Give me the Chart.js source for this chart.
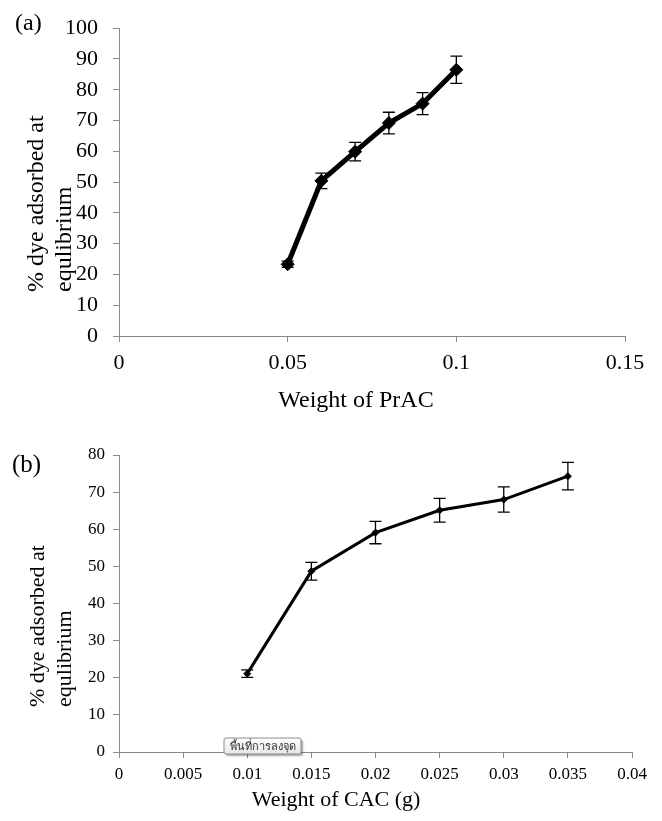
<!DOCTYPE html>
<html>
<head>
<meta charset="utf-8">
<script src="https://cdn.jsdelivr.net/npm/chart.js@4"></script>
<style>
  html, body { margin: 0; padding: 0; background: #fff; }
  #wrap { position: relative; width: 662px; height: 821px; }
  canvas { position: absolute; left: 0; }
  #chartA { top: 0; }
  #chartB { top: 425px; }
</style>
</head>
<body>
<div id="wrap">
  <canvas id="chartA" width="662" height="425"></canvas>
  <canvas id="chartB" width="662" height="396"></canvas>
</div>
<script>
// ===============================
// Data
// ===============================

// (a) PrAC
const weightA = [0.05, 0.06, 0.07, 0.08, 0.09, 0.1];
const adsorbA = [23.3, 50.4, 59.9, 69.2, 75.5, 86.5];
const errA = [1.0, 2.5, 3.0, 3.5, 3.6, 4.4];
const xTicksA = [0, 0.05, 0.1, 0.15];
const yTicksA = [0, 10, 20, 30, 40, 50, 60, 70, 80, 90, 100];

// (b) CAC
const weightB = [0.01, 0.015, 0.02, 0.025, 0.03, 0.035];
const adsorbB = [21.1, 48.7, 59.1, 65.1, 68.0, 74.3];
const errB = [1.0, 2.4, 3.0, 3.2, 3.4, 3.7];
const xTicksB = [0, 0.005, 0.01, 0.015, 0.02, 0.025, 0.03, 0.035, 0.04];
const yTicksB = [0, 10, 20, 30, 40, 50, 60, 70, 80];

const yTitle = ["% dye adsorbed at", "equlibrium"];
const xTitleA = "Weight of PrAC";
const xTitleB = "Weight of CAC (g)";
const plotAreaNote = "พื้นที่การลงจุด";

const serif = "'Liberation Serif', 'Times New Roman', serif";
const axisGray = "#8a8a8a";

Chart.defaults.font.family = serif;
Chart.defaults.color = "#000";

// ===============================
// Plugins
// ===============================

// vertical error bars with caps
const errorBars = {
  id: "errorBars",
  afterDatasetsDraw(chart, args, opts) {
    const { ctx } = chart;
    const x = chart.scales.x;
    const y = chart.scales.y;

    chart.data.datasets.forEach((ds) => {
      if (!ds.errors) return;

      ctx.save();
      ctx.strokeStyle = opts.color;
      ctx.lineWidth = opts.width;

      ds.data.forEach((pt, i) => {
        const px = x.getPixelForValue(pt.x);
        const top = y.getPixelForValue(pt.y + ds.errors[i]);
        const bot = y.getPixelForValue(pt.y - ds.errors[i]);

        ctx.beginPath();
        ctx.moveTo(px, top);
        ctx.lineTo(px, bot);
        ctx.moveTo(px - opts.cap, top);
        ctx.lineTo(px + opts.cap, top);
        ctx.moveTo(px - opts.cap, bot);
        ctx.lineTo(px + opts.cap, bot);
        ctx.stroke();
      });

      ctx.restore();
    });
  },
};

// panel letter, axis titles and the little "plot area" box
const figureText = {
  id: "figureText",
  afterDraw(chart, args, opts) {
    const { ctx } = chart;

    (opts.items || []).forEach((it) => {
      ctx.save();
      ctx.font = it.font;
      ctx.fillStyle = "#000";
      ctx.textAlign = it.align || "left";
      ctx.textBaseline = "alphabetic";
      ctx.translate(it.x, it.y);
      if (it.rotate) ctx.rotate(it.rotate);
      ctx.fillText(it.text, 0, 0);
      ctx.restore();
    });

    const note = opts.note;
    if (note && note.text) {
      ctx.save();
      ctx.shadowColor = "rgba(0,0,0,0.35)";
      ctx.shadowOffsetX = 2;
      ctx.shadowOffsetY = 2;
      ctx.shadowBlur = 2;
      const g = ctx.createLinearGradient(0, note.y, 0, note.y + note.h);
      g.addColorStop(0, "#ffffff");
      g.addColorStop(1, "#e6e6e6");
      ctx.fillStyle = g;
      ctx.beginPath();
      ctx.roundRect(note.x, note.y, note.w, note.h, 2);
      ctx.fill();
      ctx.shadowColor = "transparent";
      ctx.strokeStyle = "#8c8c8c";
      ctx.lineWidth = 1;
      ctx.stroke();
      ctx.fillStyle = "#333";
      ctx.font = "11px 'Noto Sans', 'DejaVu Sans', sans-serif";
      ctx.textAlign = "center";
      ctx.textBaseline = "middle";
      ctx.fillText(note.text, note.x + note.w / 2, note.y + note.h / 2 + 1);
      ctx.restore();
    }
  },
};

// ===============================
// Helpers
// ===============================

function axis(ticks, fontSize, pad, size, horizontal) {
  return {
    type: "linear",
    min: ticks[0],
    max: ticks[ticks.length - 1],
    afterBuildTicks: (s) => {
      s.ticks = ticks.map((v) => ({ value: v }));
    },
    afterFit: (s) => {
      if (horizontal) s.height = size;
      else s.width = size;
    },
    grid: {
      drawOnChartArea: false,
      drawTicks: true,
      tickLength: 6,
      color: axisGray,
    },
    border: { color: axisGray, width: 1 },
    ticks: {
      font: { size: fontSize },
      color: "#000",
      padding: pad,
      autoSkip: false,
      maxRotation: 0,
      callback: (v) => String(v),
    },
  };
}

function points(xs, ys) {
  return xs.map((w, i) => ({ x: w, y: ys[i] }));
}

// ===============================
// (a) Weight of PrAC
// ===============================

new Chart(document.getElementById("chartA"), {
  type: "line",
  data: {
    datasets: [
      {
        data: points(weightA, adsorbA),
        errors: errA,
        borderColor: "#000",
        borderWidth: 5,
        tension: 0,
        pointStyle: "rectRot",
        pointRadius: 6.5,
        pointBackgroundColor: "#000",
        pointBorderColor: "#000",
        pointBorderWidth: 1,
      },
    ],
  },
  options: {
    responsive: false,
    animation: false,
    events: [],
    layout: { padding: { left: 0, top: 20, right: 37, bottom: 0 } },
    scales: {
      x: axis(xTicksA, 22, 8, 89, true),
      y: axis(yTicksA, 22, 15, 119, false),
    },
    plugins: {
      legend: { display: false },
      tooltip: { enabled: false },
      errorBars: { color: "#000", width: 1.3, cap: 6 },
      figureText: {
        items: [
          { text: "(a)", x: 15, y: 30, font: "24px " + serif },
          { text: yTitle[0], x: 43, y: 292, rotate: -Math.PI / 2, font: "24px " + serif },
          { text: yTitle[1], x: 71, y: 292, rotate: -Math.PI / 2, font: "24px " + serif },
          { text: xTitleA, x: 356, y: 407, align: "center", font: "24px " + serif },
        ],
      },
    },
  },
  plugins: [errorBars, figureText],
});

// ===============================
// (b) Weight of CAC
// ===============================

new Chart(document.getElementById("chartB"), {
  type: "line",
  data: {
    datasets: [
      {
        data: points(weightB, adsorbB),
        errors: errB,
        borderColor: "#000",
        borderWidth: 3,
        tension: 0,
        pointStyle: "rectRot",
        pointRadius: 3.5,
        pointBackgroundColor: "#000",
        pointBorderColor: "#000",
        pointBorderWidth: 1,
      },
    ],
  },
  options: {
    responsive: false,
    animation: false,
    events: [],
    layout: { padding: { left: 0, top: 30, right: 30, bottom: 0 } },
    scales: {
      x: axis(xTicksB, 17, 6, 69, true),
      y: axis(yTicksB, 17, 8, 119, false),
    },
    plugins: {
      legend: { display: false },
      tooltip: { enabled: false },
      errorBars: { color: "#000", width: 1.3, cap: 6 },
      figureText: {
        items: [
          { text: "(b)", x: 12, y: 47, font: "25px " + serif },
          { text: yTitle[0], x: 44, y: 282, rotate: -Math.PI / 2, font: "22px " + serif },
          { text: yTitle[1], x: 71, y: 282, rotate: -Math.PI / 2, font: "22px " + serif },
          { text: xTitleB, x: 336, y: 381, align: "center", font: "22px " + serif },
        ],
        note: { text: plotAreaNote, x: 224, y: 313, w: 77, h: 16 },
      },
    },
  },
  plugins: [errorBars, figureText],
});
</script>
</body>
</html>
